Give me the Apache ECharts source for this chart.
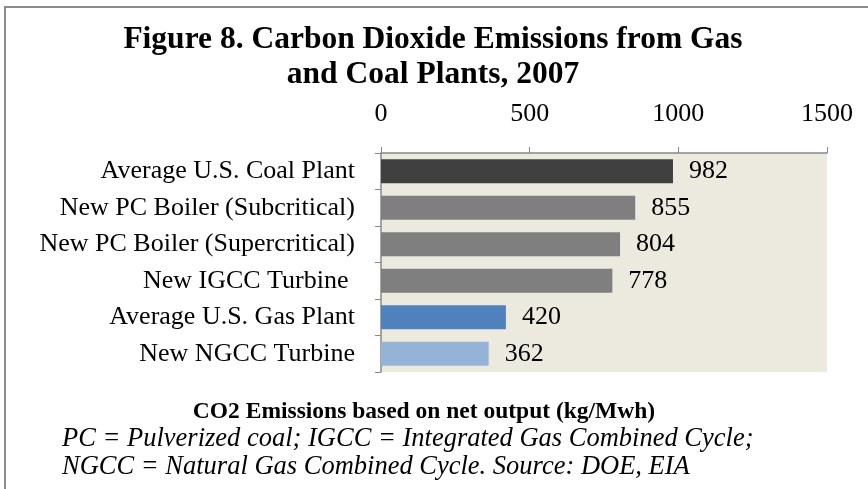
<!DOCTYPE html>
<html><head><meta charset="utf-8">
<script src="https://cdn.jsdelivr.net/npm/echarts@6/dist/echarts.min.js"></script>
<style>html,body{margin:0;padding:0;background:#fff}#c{width:868px;height:489px}</style>
</head><body><div id="c"></div>
<script>
var categories = ["Average U.S. Coal Plant","New PC Boiler (Subcritical)","New PC Boiler (Supercritical)","New IGCC Turbine ","Average U.S. Gas Plant","New NGCC Turbine"];
var values = [982, 855, 804, 778, 420, 362];
var barColors = ["#404040","#7f7f7f","#7f7f7f","#7f7f7f","#4f81bd","#95b3d7"];
var tickValues = [0, 500, 1000, 1500];

var chart = echarts.init(document.getElementById('c'));
var F = '"Liberation Serif","Times New Roman",serif';
chart.setOption({
  animation: false,
  backgroundColor: '#fff',
  title: {
    text: 'Figure 8. Carbon Dioxide Emissions from Gas\nand Coal Plants, 2007',
    left: 428, top: 17, textAlign: 'center',
    textStyle: {fontFamily: F, fontSize: 31.5, fontWeight: 'bold', color: '#000', lineHeight: 35}
  },
  graphic: [
    {type: 'polyline', shape: {points: [[5, 489], [5, 7], [868, 7]]}, style: {stroke: '#8c8c8c', lineWidth: 2, fill: null}},
    {type: 'text', x: 424, y: 412, style: {text: 'CO2 Emissions based on net output (kg/Mwh)', font: 'bold 23.5px "Liberation Serif"', fill: '#000', textAlign: 'center', textVerticalAlign: 'middle'}},
    {type: 'text', x: 62, y: 439, style: {text: 'PC = Pulverized coal; IGCC = Integrated Gas Combined Cycle;', font: 'italic 26.5px "Liberation Serif"', fill: '#000', textAlign: 'left', textVerticalAlign: 'middle'}},
    {type: 'text', x: 62, y: 467, style: {text: 'NGCC = Natural Gas Combined Cycle. Source: DOE, EIA', font: 'italic 26.5px "Liberation Serif"', fill: '#000', textAlign: 'left', textVerticalAlign: 'middle'}}
  ],
  grid: {left: 381, right: 41, top: 153, bottom: 117, show: true, backgroundColor: '#ece9df', borderWidth: 0},
  xAxis: {
    type: 'value', position: 'top', min: 0, max: 1500, interval: 500,
    axisLine: {show: true, lineStyle: {color: '#888', width: 1.5}},
    axisTick: {show: true, length: 6, lineStyle: {color: '#888'}},
    splitLine: {show: false},
    axisLabel: {fontFamily: F, fontSize: 26, color: '#000', margin: 26,
      formatter: function (v) { return tickValues.indexOf(v) >= 0 ? String(v) : ''; }}
  },
  yAxis: {
    type: 'category', inverse: true, data: categories,
    axisLine: {show: true, lineStyle: {color: '#888', width: 1.5}},
    axisTick: {show: true, length: 6, lineStyle: {color: '#888'}},
    axisLabel: {fontFamily: F, fontSize: 26, color: '#000', margin: 26}
  },
  series: [{
    type: 'bar', barWidth: 24,
    data: values.map(function (v, i) { return {value: v, itemStyle: {color: barColors[i]}}; }),
    label: {show: true, position: 'right', distance: 16, fontFamily: F, fontSize: 26, color: '#000'}
  }]
});
</script></body></html>
